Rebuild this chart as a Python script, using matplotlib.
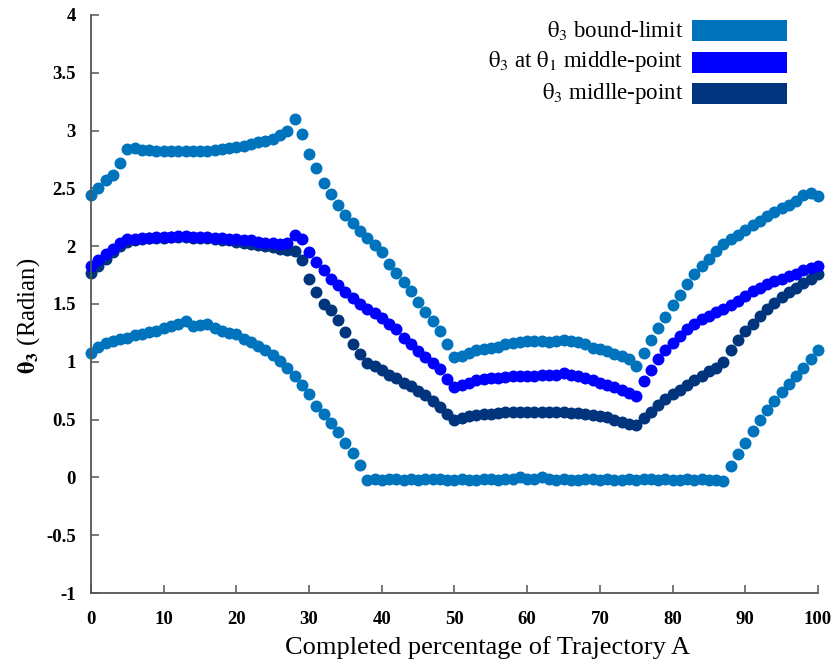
import matplotlib
matplotlib.use("Agg")
import matplotlib.pyplot as plt
from matplotlib.patches import Rectangle

# Completed percentage of the trajectory (x axis)
pct = list(range(0, 101))

# Upper joint bound of theta_3 (radian)
upper_bound = [
    2.44, 2.50, 2.57, 2.62, 2.72, 2.84, 2.85, 2.83, 2.83, 2.82,
    2.82, 2.82, 2.82, 2.82, 2.82, 2.82, 2.82, 2.83, 2.84, 2.85,
    2.86, 2.87, 2.88, 2.90, 2.91, 2.93, 2.96, 3.00, 3.10, 2.97,
    2.80, 2.68, 2.55, 2.45, 2.36, 2.27, 2.20, 2.13, 2.07, 2.01,
    1.95, 1.85, 1.77, 1.69, 1.61, 1.52, 1.43, 1.35, 1.27, 1.15,
    1.04, 1.05, 1.08, 1.10, 1.11, 1.12, 1.13, 1.15, 1.16, 1.17,
    1.18, 1.18, 1.18, 1.17, 1.18, 1.19, 1.18, 1.17, 1.15, 1.12,
    1.11, 1.09, 1.07, 1.05, 1.02, 0.96, 1.08, 1.19, 1.29, 1.39,
    1.49, 1.58, 1.67, 1.76, 1.83, 1.89, 1.96, 2.02, 2.06, 2.10,
    2.14, 2.18, 2.22, 2.26, 2.30, 2.33, 2.36, 2.39, 2.44, 2.46,
    2.43,
]

# Lower joint bound of theta_3 (radian)
lower_bound = [
    1.08, 1.13, 1.16, 1.18, 1.20, 1.21, 1.23, 1.24, 1.26, 1.27,
    1.29, 1.31, 1.33, 1.35, 1.31, 1.32, 1.33, 1.29, 1.27, 1.25,
    1.24, 1.20, 1.17, 1.14, 1.10, 1.06, 1.01, 0.95, 0.88, 0.80,
    0.72, 0.62, 0.55, 0.47, 0.39, 0.30, 0.21, 0.11, -0.02, -0.01,
    -0.02, -0.01, -0.01, -0.02, -0.01, -0.02, -0.01, -0.01, -0.01, -0.02,
    -0.02, -0.01, -0.02, -0.02, -0.01, -0.01, -0.02, -0.01, -0.01, 0.00,
    -0.01, -0.01, 0.00, -0.01, -0.02, -0.01, -0.02, -0.02, -0.01, -0.01,
    -0.02, -0.01, -0.02, -0.02, -0.01, -0.02, -0.01, -0.01, -0.02, -0.01,
    -0.02, -0.02, -0.01, -0.02, -0.01, -0.02, -0.02, -0.03, 0.10, 0.20,
    0.30, 0.40, 0.50, 0.58, 0.66, 0.74, 0.81, 0.88, 0.95, 1.02,
    1.10,
]

# theta_3 when theta_1 sits at its middle point
mid_at_theta1 = [
    1.83, 1.88, 1.93, 1.98, 2.03, 2.06, 2.06, 2.07, 2.07, 2.08,
    2.08, 2.08, 2.09, 2.09, 2.08, 2.08, 2.08, 2.07, 2.07, 2.06,
    2.06, 2.05, 2.05, 2.04, 2.03, 2.03, 2.02, 2.03, 2.10, 2.06,
    1.95, 1.86, 1.79, 1.72, 1.66, 1.60, 1.55, 1.50, 1.46, 1.42,
    1.38, 1.33, 1.28, 1.21, 1.15, 1.09, 1.04, 0.99, 0.94, 0.85,
    0.78, 0.80, 0.82, 0.84, 0.85, 0.86, 0.86, 0.87, 0.88, 0.88,
    0.88, 0.88, 0.89, 0.89, 0.89, 0.90, 0.89, 0.88, 0.86, 0.84,
    0.82, 0.80, 0.78, 0.76, 0.73, 0.70, 0.83, 0.93, 1.02, 1.10,
    1.16, 1.22, 1.28, 1.33, 1.37, 1.40, 1.43, 1.46, 1.49, 1.53,
    1.57, 1.61, 1.64, 1.67, 1.70, 1.72, 1.74, 1.76, 1.79, 1.81,
    1.83,
]

# theta_3 middle point of its own range
mid_point = [
    1.77, 1.83, 1.89, 1.95, 2.00, 2.04, 2.05, 2.06, 2.07, 2.07,
    2.07, 2.08, 2.08, 2.08, 2.07, 2.07, 2.07, 2.06, 2.05, 2.05,
    2.04, 2.03, 2.02, 2.01, 2.00, 1.99, 1.98, 1.97, 1.96, 1.88,
    1.72, 1.60, 1.50, 1.45, 1.36, 1.26, 1.15, 1.07, 0.99, 0.96,
    0.93, 0.89, 0.86, 0.82, 0.79, 0.75, 0.71, 0.66, 0.61, 0.55,
    0.50, 0.51, 0.53, 0.54, 0.55, 0.55, 0.56, 0.57, 0.57, 0.57,
    0.57, 0.57, 0.57, 0.57, 0.57, 0.57, 0.56, 0.56, 0.55, 0.54,
    0.53, 0.52, 0.50, 0.48, 0.46, 0.45, 0.51, 0.57, 0.63, 0.68,
    0.72, 0.76, 0.80, 0.84, 0.88, 0.92, 0.95, 1.00, 1.10, 1.19,
    1.27, 1.33, 1.40, 1.46, 1.51, 1.56, 1.60, 1.64, 1.68, 1.72,
    1.76,
]

legend_labels = [
    r"$\mathrm{\theta}_3$ bound-limit",
    r"$\mathrm{\theta}_3$ at $\mathrm{\theta}_1$ middle-point",
    r"$\mathrm{\theta}_3$ midlle-point",
]
c_bound = "#0073bd"
c_mid1 = "#0000ff"
c_mid = "#00347c"
legend_colors = [c_bound, c_mid1, c_mid]

x_ticks = list(range(0, 101, 10))
y_ticks = [-1, -0.5, 0, 0.5, 1, 1.5, 2, 2.5, 3, 3.5, 4]

plt.rcParams["font.family"] = ["Liberation Serif", "DejaVu Serif"]
plt.rcParams["mathtext.fontset"] = "stix"
plt.rcParams["axes.unicode_minus"] = False

fig = plt.figure(figsize=(8.38, 6.69), dpi=100)
ax = fig.add_axes([0.1086, 0.1136, 0.8675, 0.864])

ms = 8.6
ax.plot(pct, upper_bound, "o", ms=ms, color=c_bound, mec="none", clip_on=False)
ax.plot(pct, lower_bound, "o", ms=ms, color=c_bound, mec="none", clip_on=False)
ax.plot(pct, mid_point, "o", ms=ms, color=c_mid, mec="none", clip_on=False)
ax.plot(pct, mid_at_theta1, "o", ms=ms, color=c_mid1, mec="none", clip_on=False)

ax.set_xlim(0, 100)
ax.set_ylim(-1, 4)
ax.set_xticks(x_ticks)
ax.set_yticks(y_ticks)
ax.set_xticklabels([f"{v:g}" for v in x_ticks], fontweight="bold", fontsize=13.5)
ax.set_yticklabels([f"{v:g}" for v in y_ticks], fontweight="bold", fontsize=13.5)
ax.tick_params(axis="both", direction="in", length=6, width=1.1, color="#555555")
ax.tick_params(axis="x", pad=13)
ax.tick_params(axis="y", pad=11)

for side in ("top", "right"):
    ax.spines[side].set_visible(False)
for side in ("left", "bottom"):
    ax.spines[side].set_color("#555555")
    ax.spines[side].set_linewidth(1.3)

ax.set_xlabel("Completed percentage of Trajectory A", fontsize=19)
ax.xaxis.set_label_coords(0.546, -0.074)
ax.set_ylabel(r"$\mathbf{\theta_3}$ (Radian)", fontsize=17.8)
ax.yaxis.set_label_coords(-0.067, 0.479)

# Legend drawn as right-aligned labels with colour swatches
W, H = 838.0, 669.0
row_centers = [30.5, 62.0, 93.5]
for lab, col, yc in zip(legend_labels, legend_colors, row_centers):
    fig.text(683 / W, 1 - yc / H, lab, ha="right", va="center", fontsize=16.5)
    fig.add_artist(Rectangle((692 / W, 1 - (yc + 10.5) / H), 95 / W, 21 / H,
                             transform=fig.transFigure, facecolor=col,
                             edgecolor="none"))

fig.savefig("out.png", dpi=100)
